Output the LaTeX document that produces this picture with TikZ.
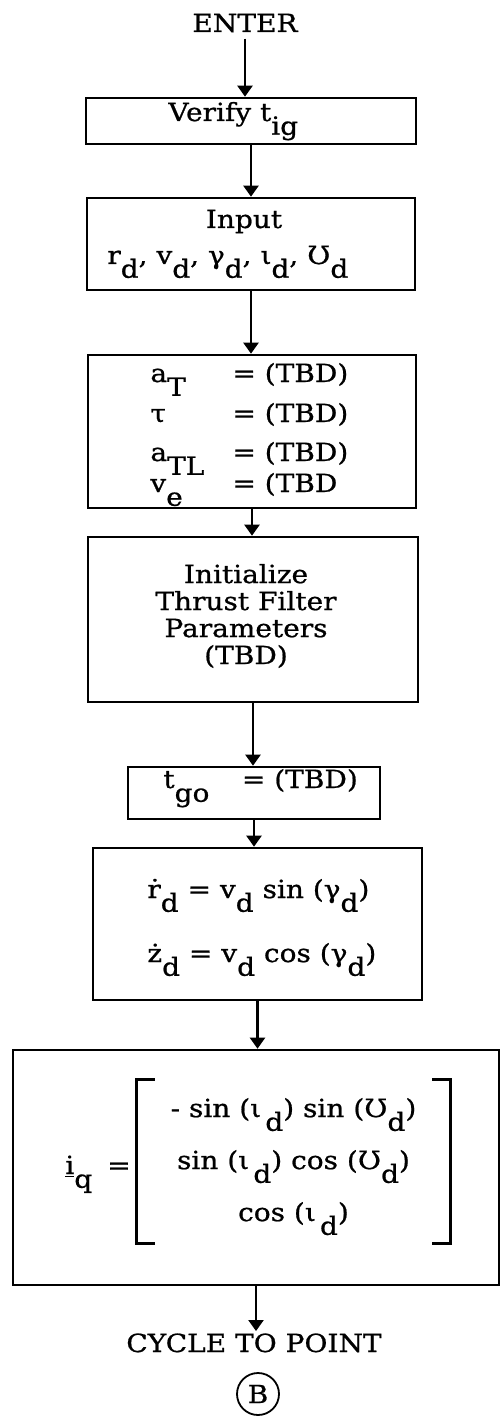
\documentclass[tikz,border=0pt]{standalone}
\usepackage{fontspec}
\setmainfont{DejaVu Serif}[FakeStretch=1.12,FakeBold=0.8]
\usetikzlibrary{arrows.meta,fit}

% typewriter style subscript: full size, half a line down
\newcommand{\lo}[1]{\raisebox{-.55em}[0pt][0pt]{#1}}

\tikzset{
  box/.style={draw,line width=1.3pt,inner sep=0pt},
  flow/.style={line width=1.1pt,-{Triangle[width=7.5pt,length=5.5pt]}},
  txt/.style={inner sep=0pt,font=\fontsize{12.5}{15}\selectfont}
}

\begin{document}
\begin{tikzpicture}[x=.5pt,y=-.5pt,line join=miter]
  \path[use as bounding box] (0,0) rectangle (501,1417);
  \fill[white] (0,0) rectangle (501,1417);

  \node[txt,anchor=base] (enter) at (245,32) {ENTER};

  % blocks
  \node[box,fit={(86,98) (416,144)}] (verify) {};
  \node[box,fit={(87,198) (415,290)}] (input) {};
  \node[box,fit={(88,355) (416,508)}] (consts) {};
  \node[box,fit={(88,537) (418,702)}] (init) {};
  \node[box,fit={(128,767) (380,819)}] (tgo) {};
  \node[box,fit={(93,848) (422,1000)}] (rates) {};
  \node[box,fit={(13,1050) (499,1285)}] (iq) {};

  % block texts
  \node[txt,anchor=base west] (verifyT) at (168,121) {Verify t\lo{ig}};

  \node[txt,anchor=base] (inputT) at (244,228) {Input};
  \node[txt,anchor=base west] (inputV) at (107,264) {r\lo{d}, v\lo{d}, γ\lo{d}, ι\lo{d}, Ʊ\lo{d}};

  \node[txt,anchor=base west] (aT) at (150,382) {a\lo{T}};
  \node[txt,anchor=base west] (aTv) at (232,382) {= (TBD)};
  \node[txt,anchor=base west] (tau) at (150,422) {τ};
  \node[txt,anchor=base west] (tauv) at (232,422) {= (TBD)};
  \node[txt,anchor=base west] (aTL) at (150,461) {a\lo{TL}};
  \node[txt,anchor=base west] (aTLv) at (232,461) {= (TBD)};
  \node[txt,anchor=base west] (ve) at (150,492) {v\lo{e}};
  \node[txt,anchor=base west] (vev) at (232,492) {= (TBD};

  \node[txt,align=center,font=\fontsize{12.5}{13.5}\selectfont] (initT) at (246,616)
    {Initialize\\Thrust Filter\\Parameters\\(TBD)};

  \node[txt,anchor=base west] (tgoT) at (163,788) {t\lo{go}\hspace{1.3em}= (TBD)};

  \node[txt,anchor=base west] (rdot) at (147,898) {ṙ\lo{d} = v\lo{d} sin (γ\lo{d})};
  \node[txt,anchor=base west] (zdot) at (147,962) {ż\lo{d} = v\lo{d} cos (γ\lo{d})};

  \node[txt,anchor=base west] (iqlab) at (65,1174) {\underline{i}\lo{q}\hspace{.6em}=};
  \node[txt,minimum width=156.5pt,minimum height=81.5pt,align=center] (vec) at (293.5,1161.5)
    {- sin (ι\,\lo{d}) sin (Ʊ\lo{d})\\[11pt]
     sin (ι\,\lo{d}) cos (Ʊ\lo{d})\\[11pt]
     cos (ι\,\lo{d})};
  \draw[line width=1.3pt] ([xshift=9pt]vec.north west) -| (vec.south west) -- ++(9pt,0);
  \draw[line width=1.3pt] ([xshift=-9pt]vec.north east) -| (vec.south east) -- ++(-9pt,0);

  \node[txt,anchor=base] (cycle) at (254,1352) {CYCLE TO POINT};
  \node[txt,draw,circle,line width=.9pt,minimum size=21pt] (ptB) at (258,1394) {B};

  % flow
  \draw[flow,shorten <=3pt] (enter.south) -- (enter.south |- verify.north);
  \draw[flow] (verify.south) -- (verify.south |- input.north);
  \draw[flow] (input.south) -- (input.south |- consts.north);
  \draw[flow] (consts.south) -- (consts.south |- init.north);
  \draw[flow] (init.south) -- (init.south |- tgo.north);
  \draw[flow] (tgo.south) -- (tgo.south |- rates.north);
  \draw[flow] (rates.south) -- (rates.south |- iq.north);
  \draw[flow,shorten >=1pt] (iq.south) -- (iq.south |- cycle.north);
\end{tikzpicture}
\end{document}
